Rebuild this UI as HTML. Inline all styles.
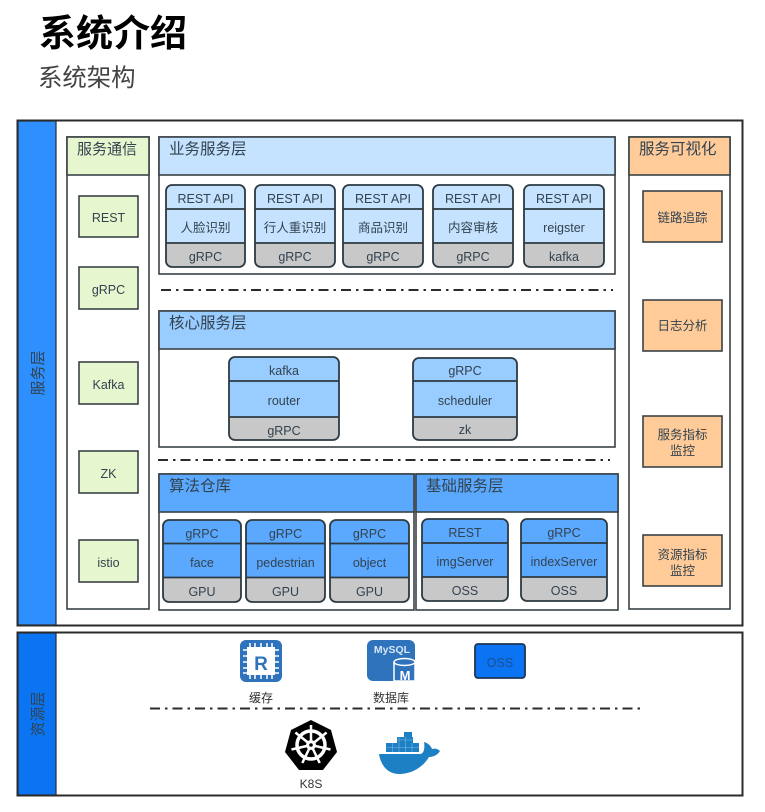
<!DOCTYPE html>
<html><head><meta charset="utf-8"><style>
html,body{margin:0;padding:0;background:#fff;width:765px;height:812px;overflow:hidden}
svg{display:block}
text{font-family:"Liberation Sans","Noto Sans CJK SC",sans-serif;fill:#33424f;text-anchor:middle}
.p{stroke:#3a4246;stroke-width:1.6}
.s{font-size:12.5px}
.h{font-size:15.5px;text-anchor:start}
.d{stroke:#2b2b2b;stroke-width:2;stroke-dasharray:10 5 2.500 5;fill:none}
.c{fill:none;stroke:#2d3a42;stroke-width:1.800}
</style></head><body>
<svg width="765" height="812" viewBox="0 0 765 812" xmlns="http://www.w3.org/2000/svg">
<text x="39" y="46" style="font-size:37px;font-weight:700;text-anchor:start;fill:#000">系统介绍</text>
<text x="38" y="86" style="font-size:24.400px;text-anchor:start;fill:#444">系统架构</text>

<rect x="17.500" y="120.500" width="725" height="505" fill="#fff" stroke="#2b2b2b" stroke-width="2"/>
<rect x="18" y="121" width="38" height="504" fill="#2e8fff" stroke="#2b2b2b" stroke-width="1.200"/>
<text transform="translate(43,373) rotate(-90)" style="font-size:15px">服务层</text>

<rect x="17.500" y="632.500" width="725" height="163" fill="#fff" stroke="#2b2b2b" stroke-width="2"/>
<rect x="18" y="633" width="38" height="162" fill="#0a74f2" stroke="#2b2b2b" stroke-width="1.200"/>
<text transform="translate(43,714) rotate(-90)" style="font-size:15px">资源层</text>

<!-- 服务通信 -->
<rect class="p" x="67" y="137" width="82" height="472" fill="#fff"/>
<rect class="p" x="67" y="137" width="82" height="38" fill="#e6f7cf"/>
<text class="h" x="77" y="154" style="font-size:15px">服务通信</text>
<rect class="p" x="79" y="196" width="59" height="41" fill="#e6f7cf"/><text class="s" x="108.500" y="222">REST</text>
<rect class="p" x="79" y="267" width="59" height="42" fill="#e6f7cf"/><text class="s" x="108.500" y="294">gRPC</text>
<rect class="p" x="79" y="362" width="59" height="42" fill="#e6f7cf"/><text class="s" x="108.500" y="389">Kafka</text>
<rect class="p" x="79" y="451" width="59" height="42" fill="#e6f7cf"/><text class="s" x="108.500" y="478">ZK</text>
<rect class="p" x="79" y="540" width="59" height="42" fill="#e6f7cf"/><text class="s" x="108.500" y="567">istio</text>

<!-- 业务服务层 -->
<rect class="p" x="159" y="137" width="456" height="137" fill="#fff"/>
<rect class="p" x="159" y="137" width="456" height="38" fill="#c5e2ff"/>
<text class="h" x="169" y="154">业务服务层</text>

<g>
<rect x="166" y="185" width="79" height="82" rx="6" fill="#c5e2ff"/><path d="M166 243h79v18a6 6 0 0 1-6 6h-67a6 6 0 0 1-6-6z" fill="#c8c8c8"/>
<rect class="c" x="166" y="185" width="79" height="82" rx="6"/><path class="c" d="M166 209h79M166 243h79"/>
<text class="s" x="205.500" y="203">REST API</text><text class="s" x="205.500" y="232">人脸识别</text><text class="s" x="205.500" y="261">gRPC</text>

<rect x="255" y="185" width="80" height="82" rx="6" fill="#c5e2ff"/><path d="M255 243h80v18a6 6 0 0 1-6 6h-68a6 6 0 0 1-6-6z" fill="#c8c8c8"/>
<rect class="c" x="255" y="185" width="80" height="82" rx="6"/><path class="c" d="M255 209h80M255 243h80"/>
<text class="s" x="295" y="203">REST API</text><text class="s" x="295" y="232">行人重识别</text><text class="s" x="295" y="261">gRPC</text>

<rect x="343" y="185" width="80" height="82" rx="6" fill="#c5e2ff"/><path d="M343 243h80v18a6 6 0 0 1-6 6h-68a6 6 0 0 1-6-6z" fill="#c8c8c8"/>
<rect class="c" x="343" y="185" width="80" height="82" rx="6"/><path class="c" d="M343 209h80M343 243h80"/>
<text class="s" x="383" y="203">REST API</text><text class="s" x="383" y="232">商品识别</text><text class="s" x="383" y="261">gRPC</text>

<rect x="433" y="185" width="80" height="82" rx="6" fill="#c5e2ff"/><path d="M433 243h80v18a6 6 0 0 1-6 6h-68a6 6 0 0 1-6-6z" fill="#c8c8c8"/>
<rect class="c" x="433" y="185" width="80" height="82" rx="6"/><path class="c" d="M433 209h80M433 243h80"/>
<text class="s" x="473" y="203">REST API</text><text class="s" x="473" y="232">内容审核</text><text class="s" x="473" y="261">gRPC</text>

<rect x="524" y="185" width="80" height="82" rx="6" fill="#c5e2ff"/><path d="M524 243h80v18a6 6 0 0 1-6 6h-68a6 6 0 0 1-6-6z" fill="#c8c8c8"/>
<rect class="c" x="524" y="185" width="80" height="82" rx="6"/><path class="c" d="M524 209h80M524 243h80"/>
<text class="s" x="564" y="203">REST API</text><text class="s" x="564" y="232">reigster</text><text class="s" x="564" y="261">kafka</text>
</g>

<path class="d" d="M161 290H613"/>

<!-- 核心服务层 -->
<rect class="p" x="159" y="311" width="456" height="136" fill="#fff"/>
<rect class="p" x="159" y="311" width="456" height="38" fill="#99ccff"/>
<text class="h" x="169" y="328">核心服务层</text>

<rect x="229" y="357" width="110" height="83" rx="6" fill="#99ccff"/><path d="M229 417h110v17a6 6 0 0 1-6 6h-98a6 6 0 0 1-6-6z" fill="#c8c8c8"/>
<rect class="c" x="229" y="357" width="110" height="83" rx="6"/><path class="c" d="M229 381h110M229 417h110"/>
<text class="s" x="284" y="375">kafka</text><text class="s" x="284" y="405">router</text><text class="s" x="284" y="435">gRPC</text>

<rect x="413" y="358" width="104" height="82" rx="6" fill="#99ccff"/><path d="M413 417h104v17a6 6 0 0 1-6 6h-92a6 6 0 0 1-6-6z" fill="#c8c8c8"/>
<rect class="c" x="413" y="358" width="104" height="82" rx="6"/><path class="c" d="M413 381h104M413 417h104"/>
<text class="s" x="465" y="375">gRPC</text><text class="s" x="465" y="405">scheduler</text><text class="s" x="465" y="434">zk</text>

<path class="d" d="M158 460H610"/>

<!-- 算法仓库 -->
<rect class="p" x="159" y="474" width="255" height="136" fill="#fff"/>
<rect class="p" x="159" y="474" width="255" height="38" fill="#5aa9ff"/>
<text class="h" x="169" y="491">算法仓库</text>

<rect x="163" y="520" width="78" height="82" rx="6" fill="#5aa9ff"/><path d="M163 577h78v19a6 6 0 0 1-6 6h-66a6 6 0 0 1-6-6z" fill="#c8c8c8"/>
<rect class="c" x="163" y="520" width="78" height="82" rx="6"/><path class="c" d="M163 543.500h78M163 577.500h78"/>
<text class="s" x="202" y="538">gRPC</text><text class="s" x="202" y="567">face</text><text class="s" x="202" y="596">GPU</text>

<rect x="246" y="520" width="79" height="82" rx="6" fill="#5aa9ff"/><path d="M246 577h79v19a6 6 0 0 1-6 6h-67a6 6 0 0 1-6-6z" fill="#c8c8c8"/>
<rect class="c" x="246" y="520" width="79" height="82" rx="6"/><path class="c" d="M246 543.500h79M246 577.500h79"/>
<text class="s" x="285.500" y="538">gRPC</text><text class="s" x="285.500" y="567">pedestrian</text><text class="s" x="285.500" y="596">GPU</text>

<rect x="330" y="520" width="79" height="82" rx="6" fill="#5aa9ff"/><path d="M330 577h79v19a6 6 0 0 1-6 6h-67a6 6 0 0 1-6-6z" fill="#c8c8c8"/>
<rect class="c" x="330" y="520" width="79" height="82" rx="6"/><path class="c" d="M330 543.500h79M330 577.500h79"/>
<text class="s" x="369.500" y="538">gRPC</text><text class="s" x="369.500" y="567">object</text><text class="s" x="369.500" y="596">GPU</text>

<!-- 基础服务层 -->
<rect class="p" x="416" y="474" width="202" height="136" fill="#fff"/>
<rect class="p" x="416" y="474" width="202" height="38" fill="#5aa9ff"/>
<text class="h" x="426" y="491">基础服务层</text>

<rect x="422" y="519" width="86" height="82" rx="6" fill="#5aa9ff"/><path d="M422 577h86v18a6 6 0 0 1-6 6h-74a6 6 0 0 1-6-6z" fill="#c8c8c8"/>
<rect class="c" x="422" y="519" width="86" height="82" rx="6"/><path class="c" d="M422 543h86M422 577h86"/>
<text class="s" x="465" y="537">REST</text><text class="s" x="465" y="566">imgServer</text><text class="s" x="465" y="595">OSS</text>

<rect x="521" y="519" width="86" height="82" rx="6" fill="#5aa9ff"/><path d="M521 577h86v18a6 6 0 0 1-6 6h-74a6 6 0 0 1-6-6z" fill="#c8c8c8"/>
<rect class="c" x="521" y="519" width="86" height="82" rx="6"/><path class="c" d="M521 543h86M521 577h86"/>
<text class="s" x="564" y="537">gRPC</text><text class="s" x="564" y="566">indexServer</text><text class="s" x="564" y="595">OSS</text>

<!-- 服务可视化 -->
<rect class="p" x="629" y="137" width="101" height="472" fill="#fff"/>
<rect class="p" x="629" y="137" width="101" height="38" fill="#ffcc99"/>
<text class="h" x="639" y="154">服务可视化</text>
<rect class="p" x="643" y="191" width="79" height="51" fill="#ffcc99"/><text class="s" x="682.500" y="222">链路追踪</text>
<rect class="p" x="643" y="300" width="79" height="51" fill="#ffcc99"/><text class="s" x="682.500" y="330">日志分析</text>
<rect class="p" x="643" y="416" width="79" height="51" fill="#ffcc99"/><text class="s" x="682.500" y="439">服务指标</text><text class="s" x="682.500" y="455">监控</text>
<rect class="p" x="643" y="535" width="79" height="51" fill="#ffcc99"/><text class="s" x="682.500" y="559">资源指标</text><text class="s" x="682.500" y="575">监控</text>

<!-- 资源层 -->
<rect x="240" y="640" width="42" height="42" rx="6" fill="#2f73bd"/>
<rect x="247" y="647" width="28" height="28" fill="#fff"/>
<path d="M250 643v36M255 643v36M261 643v36M267 643v36M272 643v36M243 650h36M243 656h36M243 662h36M243 668h36M243 673h36" stroke="#fff" stroke-width="1.500" fill="none"/>
<rect x="250" y="650" width="22" height="22" fill="#fff"/>
<text x="261" y="670" style="font-size:19px;font-weight:700;fill:#2f73bd">R</text>
<text x="261" y="702" style="font-size:12px;fill:#333">缓存</text>

<rect x="367" y="640" width="48" height="41" rx="6" fill="#2f73bd"/>
<text x="392" y="653" style="font-size:10.500px;font-weight:700;fill:#d7e7f7">MySQL</text>
<path d="M394 662v19h21v-19" fill="#2f73bd" stroke="#fff" stroke-width="1.500"/>
<ellipse cx="404.500" cy="662" rx="10.500" ry="3.500" fill="#2f73bd" stroke="#fff" stroke-width="1.500"/>
<text x="405" y="680" style="font-size:13px;font-weight:700;fill:#fff">M</text>
<text x="391" y="702" style="font-size:12px;fill:#333">数据库</text>

<rect x="475" y="644" width="50" height="34" rx="3" fill="#0a74f2" stroke="#1c3554" stroke-width="1.800"/>
<text x="500" y="667" style="font-size:12.500px;fill:#1e4f8f">OSS</text>

<path class="d" d="M150 708.500H642"/>

<polygon points="311,720 331,730 337,752 323,770 299,770 285,752 291,730" fill="#000"/>
<circle cx="311" cy="745" r="14" fill="none" stroke="#fff" stroke-width="3.500"/>
<path d="M311 745L311 725M311 745L326.600 732.500M311 745L330.500 749.500M311 745L319.700 763M311 745L302.300 763M311 745L291.500 749.500M311 745L295.400 732.500" stroke="#fff" stroke-width="2.500"/>
<circle cx="311" cy="745" r="5" fill="#fff"/>
<circle cx="311" cy="745" r="1.800" fill="#000"/>
<text x="311" y="788" style="font-size:12px;fill:#333">K8S</text>

<g fill="#1d7fc4">
<path d="M379 754H420C424 754 425 748 424 742C428 743 431 746 432 749C435 748 438 749 440 751C437 756 432 757 429 757C423 767 412 774 399 774C388 774 381 766 379 754Z"/>
<rect x="386" y="743" width="33" height="9"/>
<rect x="397" y="737" width="16" height="6"/>
<rect x="404" y="732" width="8" height="5"/>
</g>
<path d="M392.500 743v9M399 737v15M405.500 737v15M412 743v9M386 747.500h33M397 740h16" stroke="#7fb8e2" stroke-width=".6" fill="none"/>
</svg>
</body></html>
